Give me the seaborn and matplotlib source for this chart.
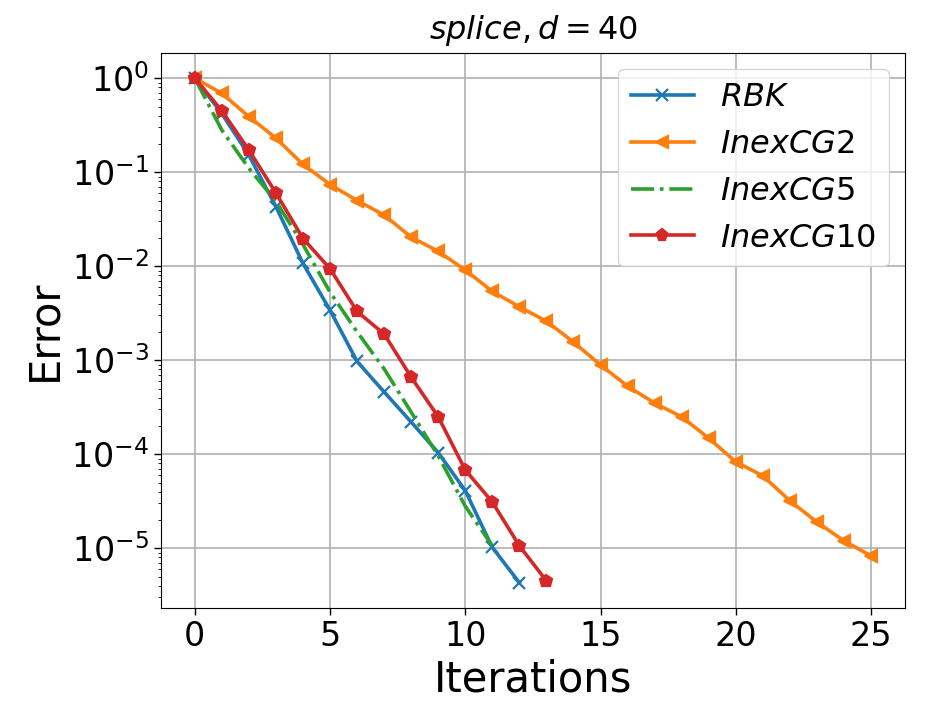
import numpy as np
import pandas as pd
import matplotlib
matplotlib.use("Agg")
import matplotlib.pyplot as plt
import seaborn as sns

# values (log-scale error per iteration)
rbk = [1.0, 0.42, 0.152, 0.043, 0.0107, 0.0034, 0.00097, 4.6e-4, 2.2e-4,
       1.04e-4, 4.1e-5, 1.02e-5, 4.3e-6]
inexcg2 = [1.0, 0.69, 0.39, 0.23, 0.121, 0.074, 0.050, 0.035, 0.0204, 0.0144,
           0.0091, 0.0054, 0.0037, 0.0026, 0.00156, 8.9e-4, 5.3e-4, 3.5e-4,
           2.5e-4, 1.48e-4, 8.3e-5, 5.9e-5, 3.2e-5, 1.9e-5, 1.2e-5, 8.3e-6]
inexcg5 = [1.0, 0.28, 0.11, 0.049, 0.017, 0.0053, 0.0020, 8.1e-4, 2.8e-4,
           9.6e-5, 2.8e-5, 1.06e-5]
inexcg10 = [1.0, 0.45, 0.172, 0.060, 0.0197, 0.0094, 0.0033, 0.0019, 6.6e-4,
            2.5e-4, 6.8e-5, 3.1e-5, 1.06e-5, 4.5e-6]

series = [
    (r"$RBK$", rbk, "#1f77b4", "x", "-"),
    (r"$InexCG2$", inexcg2, "#ff7f0e", "<", "-"),
    (r"$InexCG5$", inexcg5, "#2ca02c", None, "-."),
    (r"$InexCG10$", inexcg10, "#d62728", "p", "-"),
]

fig = plt.figure(figsize=(9.28, 7.22), dpi=100)
ax = fig.add_axes([0.1735, 0.158, 0.8015, 0.7686])

for label, vals, color, marker, ls in series:
    df = pd.DataFrame({"it": np.arange(len(vals)), "err": vals})
    sns.lineplot(data=df, x="it", y="err", ax=ax, color=color, marker=marker,
                 linestyle=ls, linewidth=2.6, markersize=9, markeredgewidth=1.6,
                 markeredgecolor=color, label=label)

ax.set_yscale("log")
ax.grid(True, color="#b0b0b0", linewidth=1.2)
ax.set_xticks([0, 5, 10, 15, 20, 25])
ax.tick_params(labelsize=24, length=5, width=1)
ax.set_xlabel("Iterations", fontsize=30)
ax.set_ylabel("Error", fontsize=30)
ax.set_title(r"$splice, d = 40$", fontsize=23, pad=10)
ax.legend(loc="upper right", fontsize=23, handlelength=2.0, markerscale=0.9)

fig.savefig("out.png", dpi=100)
